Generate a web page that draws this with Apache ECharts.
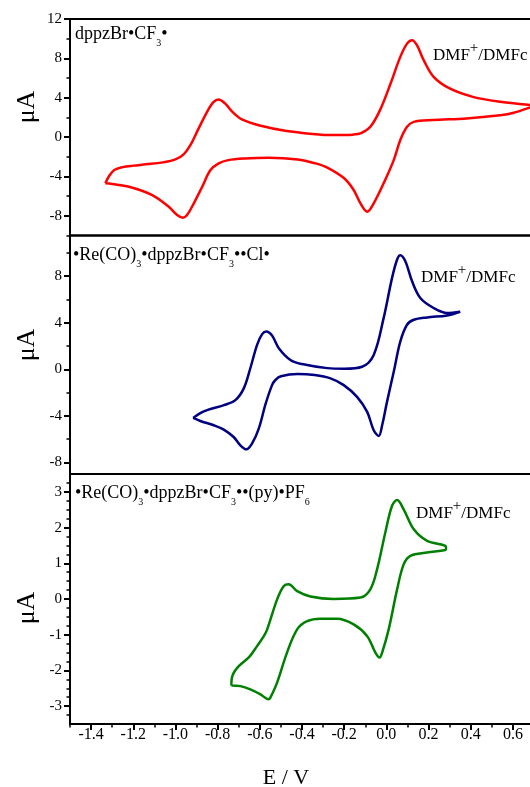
<!DOCTYPE html>
<html>
<head>
<meta charset="utf-8">
<script src="https://cdn.jsdelivr.net/npm/echarts@6/dist/echarts.min.js"></script>
<style>
html, body { margin: 0; padding: 0; background: #fff; }
#main { width: 530px; height: 787px; }
</style>
</head>
<body>
<div id="main"></div>
<script>
var FONT = "'Liberation Serif', 'Times New Roman', serif";

// shared potential axis (E / V)
var eTicks = [-1.4, -1.2, -1.0, -0.8, -0.6, -0.4, -0.2, 0.0, 0.2, 0.4, 0.6];
var eMinor = [-1.5, -1.3, -1.1, -0.9, -0.7, -0.5, -0.3, -0.1, 0.1, 0.3, 0.5, 0.7];

// panel 1 : dppzBr•CF3•
var ticks1 = [-8, -4, 0, 4, 8, 12];
var minor1 = [-10, -6, -2, 2, 6, 10];
var cv1E = [-1.332, -1.316, -1.29, -1.25, -1.20, -1.14, -1.06, -1.00, -0.96, -0.93, -0.89, -0.85, -0.82, -0.795, -0.765, -0.73, -0.685, -0.59, -0.48, -0.35, -0.25, -0.16, -0.12, -0.076, -0.03, 0.02, 0.066, 0.098, 0.122, 0.145, 0.177, 0.224, 0.30, 0.41, 0.54, 0.68, 0.70,
  0.68, 0.60, 0.54, 0.38, 0.22, 0.13, 0.098, 0.066, 0.035, -0.013, -0.06, -0.091, -0.123, -0.155, -0.20, -0.28, -0.336, -0.42, -0.56, -0.67, -0.75, -0.795, -0.834, -0.873, -0.913, -0.945, -0.965, -0.992, -1.032, -1.11, -1.22, -1.30, -1.332];
var cv1I = [-4.70, -4.0, -3.35, -3.05, -2.90, -2.77, -2.57, -2.27, -1.73, -0.85, 0.88, 2.57, 3.55, 3.83, 3.42, 2.57, 1.80, 1.12, 0.64, 0.32, 0.20, 0.25, 0.40, 1.05, 2.74, 5.45, 8.15, 9.5, 9.85, 9.34, 7.82, 6.12, 4.94, 4.09, 3.58, 3.25, 3.2,
  3.0, 2.45, 2.23, 1.90, 1.73, 1.55, 1.05, -0.30, -2.34, -4.70, -6.73, -7.58, -6.73, -5.38, -4.19, -3.1, -2.67, -2.27, -2.1, -2.17, -2.34, -2.67, -3.35, -5.04, -6.73, -7.92, -8.19, -7.92, -7.07, -5.89, -5.04, -4.77, -4.70];

// panel 2 : •Re(CO)3•dppzBr•CF3••Cl•
var ticks2 = [-8, -4, 0, 4, 8];
var minor2 = [-6, -2, 2, 6, 10];
var cv2E = [-0.916, -0.88, -0.85, -0.77, -0.716, -0.676, -0.645, -0.613, -0.589, -0.569, -0.542, -0.51, -0.455, -0.40, -0.28, -0.20, -0.115, -0.06, -0.013, 0.027, 0.051, 0.066, 0.09, 0.122, 0.161, 0.224, 0.288, 0.35,
  0.288, 0.193, 0.13, 0.098, 0.066, 0.035, 0.003, -0.02, -0.036, -0.06, -0.091, -0.139, -0.202, -0.265, -0.34, -0.42, -0.50, -0.526, -0.542, -0.573, -0.605, -0.637, -0.664, -0.692, -0.724, -0.771, -0.818, -0.882, -0.916];
var cv2I = [-4.18, -3.75, -3.51, -3.08, -2.65, -1.64, 0.09, 2.10, 3.02, 3.25, 2.90, 1.81, 0.80, 0.45, 0.10, 0.05, 0.22, 1.23, 4.40, 7.86, 9.44, 9.81, 9.29, 7.56, 6.13, 5.27, 4.84, 4.95,
  4.63, 4.46, 4.26, 3.83, 2.38, -0.21, -2.80, -4.81, -5.73, -5.24, -3.66, -2.37, -1.36, -0.78, -0.50, -0.41, -0.60, -0.92, -1.36, -3.0, -5.10, -6.39, -6.88, -6.54, -5.82, -5.18, -4.81, -4.44, -4.18];

// panel 3 : •Re(CO)3•dppzBr•CF3••(py)•PF6
var ticks3 = [-3, -2, -1, 0, 1, 2, 3];
var minor3 = [-3.25, -2.75, -2.5, -2.25, -1.75, -1.5, -1.25, -0.75, -0.5, -0.25, 0.25, 0.5, 0.75, 1.25, 1.5, 1.75, 2.25, 2.5, 2.75, 3.25];
var cv3E = [-0.735, -0.73, -0.70, -0.65, -0.613, -0.581, -0.565, -0.518, -0.487, -0.463, -0.423, -0.36, -0.25, -0.123, -0.076, -0.044, -0.005, 0.027, 0.051, 0.082, 0.13, 0.193, 0.28, 0.283,
  0.28, 0.193, 0.114, 0.082, 0.051, 0.011, -0.02, -0.032, -0.052, -0.091, -0.155, -0.234, -0.313, -0.376, -0.423, -0.471, -0.518, -0.55, -0.558, -0.597, -0.645, -0.692, -0.735];
var cv3I = [-2.42, -2.15, -1.88, -1.62, -1.32, -1.04, -0.85, -0.01, 0.36, 0.41, 0.22, 0.07, 0.0, 0.04, 0.27, 0.83, 1.86, 2.61, 2.77, 2.51, 1.95, 1.63, 1.49, 1.42,
  1.37, 1.30, 1.21, 0.97, 0.27, -0.85, -1.50, -1.64, -1.50, -1.04, -0.71, -0.55, -0.55, -0.62, -0.85, -1.50, -2.34, -2.76, -2.81, -2.67, -2.53, -2.44, -2.42];

var panelColors = ['#ff0000', '#000080', '#008000'];
var yRanges = [[-10, 12], [-9, 11.5], [-3.5, 3.5]];

function pairs(e, i) {
	return e.map(function(v, k) { return [v, i[k]]; });
}

var myChart = echarts.init(document.getElementById('main'));

// the right frame of the original plot is cut off, so the grids run past the canvas
var grids = [
	{ left: 70, width: 464, top: 19, height: 216.5 },
	{ left: 70, width: 464, top: 235.5, height: 238.5 },
	{ left: 70, width: 464, top: 474, height: 250 }
].map(function(g) {
	g.show = true;
	g.borderColor = '#000';
	g.borderWidth = 2;
	g.containLabel = false;
	g.outerBoundsMode = 'none';
	return g;
});

var xAxes = [0, 1].map(function(k) {
	return { type: 'value', gridIndex: k, min: -1.5, max: 0.7, show: false };
});
// bottom axis with labels
xAxes.push({
	type: 'value', gridIndex: 2, min: -1.5, max: 0.7, position: 'bottom',
	axisLine: { onZero: false, lineStyle: { color: '#000', width: 2 } },
	axisTick: { customValues: eTicks, length: 6, lineStyle: { color: '#000', width: 2 } },
	axisLabel: {
		customValues: eTicks, margin: 3, color: '#000', fontSize: 16, fontFamily: FONT,
		formatter: function(v) { return v.toFixed(1); }
	},
	splitLine: { show: false }
});
// minor ticks of the bottom axis
xAxes.push({
	type: 'value', gridIndex: 2, min: -1.5, max: 0.7, position: 'bottom',
	axisLine: { show: false, onZero: false },
	axisTick: { customValues: eMinor, length: 3.5, lineStyle: { color: '#000', width: 1.5 } },
	axisLabel: { show: false },
	splitLine: { show: false }
});

var majorTicks = [ticks1, ticks2, ticks3];
var minorTicks = [minor1, minor2, minor3];
var yAxes = [];
[0, 1, 2].forEach(function(k) {
	yAxes.push({
		type: 'value', gridIndex: k, min: yRanges[k][0], max: yRanges[k][1], position: 'left',
		axisLine: { show: true, onZero: false, lineStyle: { color: '#000', width: 2 } },
		axisTick: { customValues: majorTicks[k], length: 6, lineStyle: { color: '#000', width: 2 } },
		axisLabel: { customValues: majorTicks[k], margin: 8, color: '#000', fontSize: 15, fontFamily: FONT },
		splitLine: { show: false }
	});
});
[0, 1, 2].forEach(function(k) {
	yAxes.push({
		type: 'value', gridIndex: k, min: yRanges[k][0], max: yRanges[k][1], position: 'left',
		axisLine: { show: false, onZero: false },
		axisTick: { customValues: minorTicks[k], length: 3.5, lineStyle: { color: '#000', width: 1.5 } },
		axisLabel: { show: false },
		splitLine: { show: false }
	});
});

var curves = [pairs(cv1E, cv1I), pairs(cv2E, cv2I), pairs(cv3E, cv3I)];
var series = curves.map(function(d, k) {
	return {
		type: 'line', xAxisIndex: k, yAxisIndex: k, data: d,
		showSymbol: false, smooth: 0.35, silent: true,
		lineStyle: { color: panelColors[k], width: 2.5 }
	};
});

// text helpers (sub / superscripts)
var rich = {
	n: { fontSize: 18, fontFamily: FONT, color: '#000' },
	s: { fontSize: 10, fontFamily: FONT, color: '#000', padding: [18, 0, 0, 0] },
	d: { fontSize: 17, fontFamily: FONT, color: '#000' },
	p: { fontSize: 15, fontFamily: FONT, color: '#000', padding: [0, 0, 15, 0] }
};
function label(x, y, text) {
	return {
		type: 'text', x: x, y: y, silent: true,
		style: { text: text, rich: rich, align: 'left', verticalAlign: 'middle' }
	};
}
var dmf = '{d|DMF}{p|+}{d|/DMFc}';
function yName(y) {
	return {
		type: 'text', x: 27.5, y: y, rotation: Math.PI / 2, silent: true,
		style: { text: 'μA', fontSize: 26, fontFamily: FONT, fill: '#000', align: 'center', verticalAlign: 'middle' }
	};
}

var option = {
	backgroundColor: '#fff',
	animation: false,
	grid: grids,
	xAxis: xAxes,
	yAxis: yAxes,
	series: series,
	graphic: [
		label(75, 34, '{n|dppzBr•CF}{s|3}{n|•}'),
		label(433, 56, dmf),
		label(73, 255, '{n|•Re(CO)}{s|3}{n|•dppzBr•CF}{s|3}{n|••Cl•}'),
		label(421, 278, dmf),
		label(75, 493, '{n|•Re(CO)}{s|3}{n|•dppzBr•CF}{s|3}{n|••(py)•PF}{s|6}'),
		label(416, 514, dmf),
		yName(107),
		yName(345),
		yName(608),
		{
			type: 'text', x: 286, y: 778, silent: true,
			style: { text: 'E / V', fontSize: 22, fontFamily: FONT, fill: '#000', align: 'center', verticalAlign: 'middle' }
		}
	]
};
myChart.setOption(option);
</script>
</body>
</html>
